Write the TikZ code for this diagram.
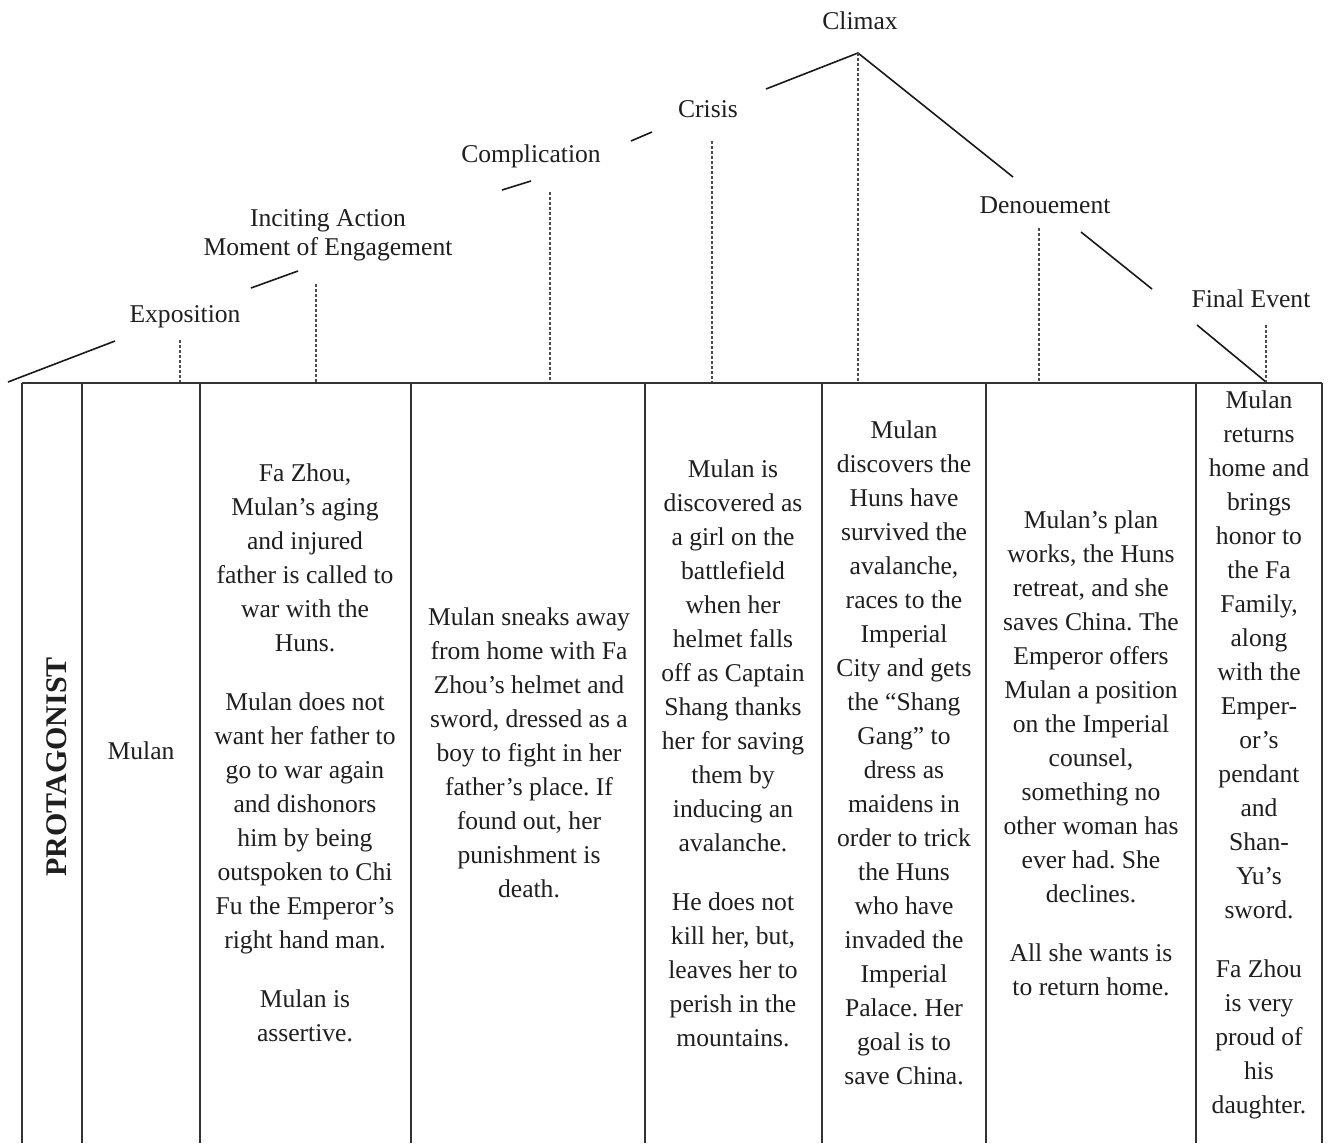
\documentclass[tikz,border=0pt]{standalone}
\usepackage{fontspec}
\setmainfont{Liberation Serif}
\frenchspacing
\begin{document}
\begin{tikzpicture}[x=1pt,y=-1pt,
  plotline/.style={line width=1.6pt, black!90},
  guide/.style={line width=1.5pt, black!70, dash pattern=on 3pt off 2pt},
  rule/.style={line width=1.6pt, black!80},
  lbl/.style={anchor=base, inner sep=0pt, font=\fontsize{25.6}{29}\selectfont, align=center, text=black!88},
  cell/.style={anchor=center, inner sep=0pt, font=\fontsize{25.6}{34}\selectfont, align=center, text=black!88}]
\useasboundingbox (0,0) rectangle (1330,1143);
\fill[white] (0,0) rectangle (1330,1143);

% stage labels
\node[lbl] (climax) at (860,29) {Climax};
\node[lbl] (crisis) at (708,117) {Crisis};
\node[lbl] (compl) at (531,162) {Complication};
\node[lbl] (incite) at (328,255) {Inciting Action\\Moment of Engagement};
\node[lbl] (expo) at (185,322) {Exposition};
\node[lbl] (denou) at (1045,213) {Denouement};
\node[lbl] (final) at (1251,307) {Final Event};

% plot line segments
\coordinate (p0) at (8,382);   \coordinate (p1) at (115,341);
\coordinate (p2) at (251,288); \coordinate (p3) at (298,271);
\coordinate (p4) at (502,190); \coordinate (p5) at (531,181);
\coordinate (p6) at (631,141); \coordinate (p7) at (652,132);
\coordinate (p8) at (766,89);  \coordinate (peak) at (858,53);
\coordinate (p9) at (1013,177);
\coordinate (p10) at (1081,232); \coordinate (p11) at (1152,289);
\coordinate (p12) at (1197,325); \coordinate (p13) at (1266,382);
\draw[plotline] (p0) -- (p1);
\draw[plotline] (p2) -- (p3);
\draw[plotline] (p4) -- (p5);
\draw[plotline] (p6) -- (p7);
\draw[plotline] (p8) -- (peak) -- (p9);
\draw[plotline] (p10) -- (p11);
\draw[plotline] (p12) -- (p13);

% guides
\coordinate (g1t) at (180,340);  \coordinate (g1b) at (180,382);
\coordinate (g2t) at (316,284);  \coordinate (g2b) at (316,382);
\coordinate (g3t) at (550,192);  \coordinate (g3b) at (550,382);
\coordinate (g4t) at (712,141);  \coordinate (g4b) at (712,382);
\coordinate (g5b) at (858,382);
\coordinate (g6t) at (1039,228); \coordinate (g6b) at (1039,382);
\coordinate (g7t) at (1266,325); \coordinate (g7b) at (1266,382);
\draw[guide] (g1t) -- (g1b);
\draw[guide] (g2t) -- (g2b);
\draw[guide] (g3t) -- (g3b);
\draw[guide] (g4t) -- (g4b);
\draw[guide] (peak) -- (g5b);
\draw[guide] (g6t) -- (g6b);
\draw[guide] (g7t) -- (g7b);

% table
\draw[rule] (22,383) -- (1322,383);
\foreach \x in {22,82,200,411,645,822,986,1196,1322}
  \draw[rule] (\x,383) -- (\x,1143);

% cells
\node[cell, rotate=90, font=\fontsize{30}{34}\selectfont\bfseries] (prot) at (57,767) {PROTAGONIST};
\node[cell] (c2) at (141,751) {Mulan};
\node[cell] (c3) at (305,753) {Fa Zhou,\\Mulan’s aging\\and injured\\father is called to\\war with the\\Huns.\\[25pt]Mulan does not\\want her father to\\go to war again\\and dishonors\\him by being\\outspoken to Chi\\Fu the Emperor’s\\right hand man.\\[25pt]Mulan is\\assertive.};
\node[cell] (c4) at (529,753) {Mulan sneaks away\\from home with Fa\\Zhou’s helmet and\\sword, dressed as a\\boy to fight in her\\father’s place. If\\found out, her\\punishment is\\death.};
\node[cell] (c5) at (733,753) {Mulan is\\discovered as\\a girl on the\\battlefield\\when her\\helmet falls\\off as Captain\\Shang thanks\\her for saving\\them by\\inducing an\\avalanche.\\[25pt]He does not\\kill her, but,\\leaves her to\\perish in the\\mountains.};
\node[cell] (c6) at (904,753) {Mulan\\discovers the\\Huns have\\survived the\\avalanche,\\races to the\\Imperial\\City and gets\\the “Shang\\Gang” to\\dress as\\maidens in\\order to trick\\the Huns\\who have\\invaded the\\Imperial\\Palace. Her\\goal is to\\save China.};
\node[cell] (c7) at (1091,753) {Mulan’s plan\\works, the Huns\\retreat, and she\\saves China. The\\Emperor offers\\Mulan a position\\on the Imperial\\counsel,\\something no\\other woman has\\ever had. She\\declines.\\[25pt]All she wants is\\to return home.};
\node[cell] (c8) at (1259,755) {Mulan\\returns\\home and\\brings\\honor to\\the Fa\\Family,\\along\\with the\\Emper-\\or’s\\pendant\\and\\Shan-\\Yu’s\\sword.\\[25pt]Fa Zhou\\is very\\proud of\\his\\daughter.};
\end{tikzpicture}
\end{document}
